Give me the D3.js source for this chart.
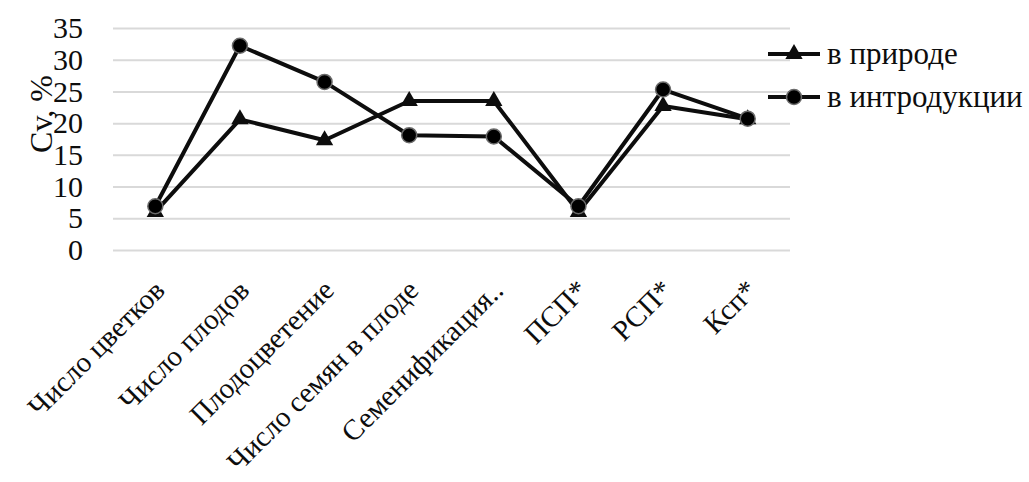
<!DOCTYPE html>
<html>
<head>
<meta charset="utf-8">
<script src="https://cdn.jsdelivr.net/npm/d3@7"></script>
</head>
<body style="margin:0">
<svg id="chart" width="1029" height="482" style="display:block"></svg>
<script>
// Coefficient of variation (Cv, %) of seed productivity traits
const categories = [
  "Число цветков", "Число плодов", "Плодоцветение", "Число семян в плоде",
  "Семенификация..", "ПСП*", "РСП*", "Ксп*"
];
const inNature = [6, 20.6, 17.3, 23.5, 23.5, 6, 22.7, 20.6];
const inIntroduction = [6.9, 32.2, 26.5, 18.1, 17.9, 6.9, 25.3, 20.7];
const yTicks = [0, 5, 10, 15, 20, 25, 30, 35];
const seriesNames = ["в природе", "в интродукции"];
const yTitle = "Cv, %";

const FONT = "Liberation Serif";
const svg = d3.select("#chart");
const plot = { left: 113, right: 790, top: 28, bottom: 250 };
const ink = "#0d0d0d";

const x = d3.scaleBand().domain(categories).range([plot.left, plot.right]);
const y = d3.scaleLinear().domain([0, 35]).range([plot.bottom, plot.top]);

// Horizontal gridlines and value labels
const yAxis = svg.append("g")
  .attr("transform", `translate(${plot.left},0)`)
  .call(d3.axisLeft(y).tickValues(yTicks).tickSize(-(plot.right - plot.left)).tickPadding(30))
  .attr("font-family", FONT).attr("font-size", 30);
yAxis.select(".domain").remove();
yAxis.selectAll(".tick line").attr("stroke", "#d9d9d9").attr("stroke-width", 2);
yAxis.selectAll(".tick text").attr("fill", ink);

// Axis title
svg.append("text")
  .attr("transform", "translate(52,114) rotate(-90)")
  .attr("text-anchor", "middle")
  .attr("font-family", FONT).attr("font-size", 32).attr("fill", ink)
  .text(yTitle);

// Category labels, rotated
const xAxis = svg.append("g")
  .attr("transform", `translate(0,${plot.bottom})`)
  .call(d3.axisBottom(x).tickSize(0))
  .attr("font-family", FONT).attr("font-size", 29);
xAxis.select(".domain").remove();
xAxis.selectAll(".tick text")
  .attr("fill", ink)
  .attr("text-anchor", "end")
  .attr("x", 0).attr("y", 0).attr("dy", 0)
  .attr("transform", "translate(11,42) rotate(-45)");

const cx = d => x(d) + x.bandwidth() / 2;
const lineGen = d3.line().x(d => cx(d.c)).y(d => y(d.v));
const rows = arr => categories.map((c, i) => ({ c, v: arr[i] }));

const triangle = d3.symbol().type(d3.symbolTriangle).size(130);

function drawTriangle(g, px, py) {
  g.append("path")
    .attr("d", triangle())
    .attr("transform", `translate(${px},${py})`)
    .attr("fill", ink);
}
function drawCircle(g, px, py) {
  g.append("circle")
    .attr("cx", px).attr("cy", py).attr("r", 7.5)
    .attr("fill", "#000").attr("stroke", "#6b6b6b").attr("stroke-width", 1.5);
}

// Series "в природе"
const gNat = svg.append("g");
gNat.append("path").datum(rows(inNature))
  .attr("d", lineGen).attr("fill", "none")
  .attr("stroke", ink).attr("stroke-width", 4).attr("stroke-linejoin", "round");
rows(inNature).forEach(d => drawTriangle(gNat, cx(d.c), y(d.v)));

// Series "в интродукции"
const gInt = svg.append("g");
gInt.append("path").datum(rows(inIntroduction))
  .attr("d", lineGen).attr("fill", "none")
  .attr("stroke", ink).attr("stroke-width", 4).attr("stroke-linejoin", "round");
rows(inIntroduction).forEach(d => drawCircle(gInt, cx(d.c), y(d.v)));

// Legend
const legend = svg.append("g");
const legendRows = [54, 97];
seriesNames.forEach((name, i) => {
  const ly = legendRows[i];
  legend.append("line")
    .attr("x1", 768).attr("x2", 820).attr("y1", ly).attr("y2", ly)
    .attr("stroke", ink).attr("stroke-width", 4);
  if (i === 0) drawTriangle(legend, 794, ly); else drawCircle(legend, 794, ly);
  legend.append("text")
    .attr("x", 827).attr("y", ly).attr("dy", "0.32em")
    .attr("font-family", FONT).attr("font-size", 31).attr("fill", ink)
    .text(name);
});
</script>
</body>
</html>
